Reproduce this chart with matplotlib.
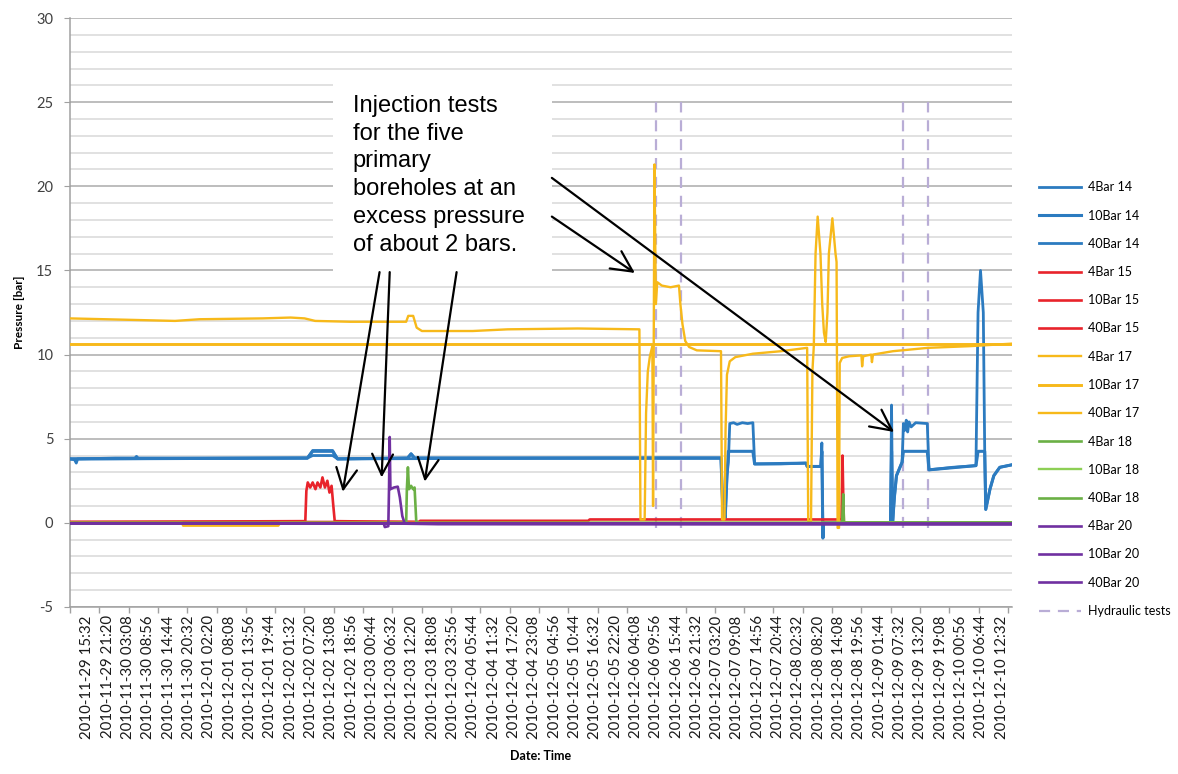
import numpy as np
import matplotlib
matplotlib.use("Agg")
import matplotlib.pyplot as plt
from matplotlib.patches import Rectangle

plt.rcParams['font.family'] = ['Lato', 'DejaVu Sans']
plt.rcParams['axes.unicode_minus'] = False

# x = hours after 2010-11-29 15:32, y = pressure [bar]
tick_labels = ["2010-11-29 15:32", "2010-11-29 21:20", "2010-11-30 03:08", "2010-11-30 08:56",
               "2010-11-30 14:44", "2010-11-30 20:32", "2010-12-01 02:20", "2010-12-01 08:08",
               "2010-12-01 13:56", "2010-12-01 19:44", "2010-12-02 01:32", "2010-12-02 07:20",
               "2010-12-02 13:08", "2010-12-02 18:56", "2010-12-03 00:44", "2010-12-03 06:32",
               "2010-12-03 12:20", "2010-12-03 18:08", "2010-12-03 23:56", "2010-12-04 05:44",
               "2010-12-04 11:32", "2010-12-04 17:20", "2010-12-04 23:08", "2010-12-05 04:56",
               "2010-12-05 10:44", "2010-12-05 16:32", "2010-12-05 22:20", "2010-12-06 04:08",
               "2010-12-06 09:56", "2010-12-06 15:44", "2010-12-06 21:32", "2010-12-07 03:20",
               "2010-12-07 09:08", "2010-12-07 14:56", "2010-12-07 20:44", "2010-12-08 02:32",
               "2010-12-08 08:20", "2010-12-08 14:08", "2010-12-08 19:56", "2010-12-09 01:44",
               "2010-12-09 07:32", "2010-12-09 13:20", "2010-12-09 19:08", "2010-12-10 00:56",
               "2010-12-10 06:44", "2010-12-10 12:32"]
label_step_h = 5.8

bar14_4 = [(-5.1, 3.8), (60, 3.85), (62.8, 3.85), (64.3, 4.0), (70.0, 4.0), (71.4, 3.8),
           (150, 3.85), (180.6, 3.85)]
bar14_10 = [(-5.1, 3.8), (62.8, 3.85), (64.3, 4.25), (70.0, 4.25), (71.4, 3.8), (91.4, 3.85),
            (92.4, 4.1), (93.4, 3.85), (180.9, 3.85), (181.4, 0.8), (182.1, 0.3), (182.6, 2.8),
            (183.0, 4.25), (190.0, 4.25), (190.5, 3.5), (205.2, 3.55), (205.5, 3.35), (209.4, 3.35),
            (209.7, 4.25), (210.0, -0.9), (210.2, 0.0), (229.3, 0.0), (229.6, 4.25), (229.9, 0.0),
            (230.4, 1.5), (231.0, 2.8), (232.0, 3.3), (232.6, 3.6), (233.0, 4.25), (239.8, 4.25),
            (240.3, 3.15), (253.7, 3.4), (254.3, 4.25), (256.2, 4.25), (256.5, 0.8), (257.7, 2.0),
            (258.8, 2.8), (260.5, 3.3), (264, 3.45)]
bar14_40 = [(-5.1, 3.8), (-3.7, 3.75), (-3.2, 3.55), (-2.8, 3.8), (8, 3.85), (13.5, 3.85),
            (14.0, 3.95), (14.5, 3.85), (45, 3.85), (62.8, 3.85), (64.3, 4.3), (70.0, 4.3),
            (71.4, 3.8), (91.4, 3.85), (92.4, 4.1), (93.4, 3.85), (120, 3.85), (180.9, 3.85),
            (181.4, 0.8), (182.1, 0.3), (182.6, 2.8), (183.0, 3.6), (183.4, 5.9), (184.5, 5.95),
            (185.5, 5.85), (187.0, 5.95), (188.5, 5.9), (190.0, 5.95), (190.5, 3.5), (198, 3.5),
            (205.2, 3.55), (205.5, 3.35), (209.4, 3.35), (209.7, 4.75), (210.0, -0.9), (210.2, 0.0),
            (229.3, 0.0), (229.6, 7.0), (229.9, 0.0), (230.4, 1.5), (231.0, 2.8), (232.0, 3.3),
            (232.6, 3.6), (233.0, 5.9), (233.4, 5.5), (233.8, 6.1), (234.2, 5.4), (234.6, 6.0),
            (235.2, 5.7), (236.5, 5.95), (239.8, 5.9), (240.3, 3.15), (247, 3.3), (253.7, 3.4),
            (254.3, 12.5), (255.0, 15.0), (255.8, 12.5), (256.2, 4.3), (256.5, 0.8), (257.7, 2.0),
            (258.8, 2.8), (260.5, 3.3), (264, 3.45)]

bar15_4 = [(-5.1, 0.05), (62.2, 0.1), (62.5, 1.9), (62.9, 2.4), (63.6, 2.1), (64.3, 2.4),
           (65.1, 2.0), (65.7, 2.4), (66.5, 2.1), (67.1, 2.7), (67.8, 2.1), (68.5, 2.5),
           (69.1, 1.8), (69.7, 2.2), (70.2, 1.0), (70.6, 0.1), (94.0, 0.05)]
bar15_10 = [(-5.1, 0.05), (94.5, 0.05), (95.0, 0.12), (143.0, 0.12), (143.4, 0.2),
            (215.3, 0.2), (215.6, 4.0), (215.8, 1.7), (216.0, 0.0), (264, 0.0)]
bar15_40 = [(-5.1, 0.0), (264, 0.0)]

bar17_4 = [(-5.1, 0.0), (27.0, 0.0), (27.3, -0.17), (54.5, -0.17), (55.0, 0.0), (264, 0.0)]
bar17_10 = [(-5.1, 10.6), (264, 10.6)]
bar17_40 = [(-5.1, 12.15), (5, 12.1), (15, 12.05), (25, 12.0), (32, 12.1), (50, 12.15),
            (58, 12.2), (62, 12.15), (65, 12.0), (75, 11.95), (91.0, 11.95), (91.6, 12.3),
            (93.0, 12.3), (94.0, 11.6), (95.5, 11.4), (110, 11.4), (120, 11.5), (140, 11.55),
            (157.6, 11.5), (157.9, 0.2), (159.1, 0.2), (159.5, 6.5), (160.0, 9.0), (160.6, 9.9),
            (161.3, 10.5), (161.5, 1.0), (161.9, 21.3), (162.3, 13.0), (162.7, 14.3), (164, 14.1),
            (166.5, 14.0), (168.9, 14.1), (169.3, 13.0), (169.9, 11.8), (170.7, 10.8), (171.8, 10.45),
            (174, 10.25), (180.9, 10.2), (181.2, 0.2), (181.9, 0.2), (182.2, 5.5), (182.6, 8.8),
            (183.4, 9.6), (185, 9.85), (190, 10.05), (198, 10.2), (205.5, 10.4), (205.8, 0.1),
            (206.6, 0.1), (207.0, 9.0), (207.4, 10.5), (207.9, 16.0), (208.5, 18.2), (209.3, 16.0),
            (209.8, 13.0), (210.3, 11.3), (210.8, 10.75), (211.3, 12.5), (211.7, 16.0),
            (212.7, 18.1), (213.6, 16.0), (213.9, 15.5), (214.2, -0.3), (214.6, -0.3), (214.8, 9.5),
            (215.5, 9.8), (217.5, 9.9), (221.0, 9.95), (221.2, 9.3), (221.5, 9.9), (223.8, 10.0),
            (224.0, 9.55), (224.3, 10.0), (230, 10.2), (240, 10.4), (252, 10.5), (264, 10.65)]

bar18_4 = [(-5.1, 0.0), (91.0, 0.0), (91.2, 2.0), (91.5, 3.3), (91.8, 2.0), (92.4, 2.2),
           (93.0, 2.0), (93.4, 2.1), (93.9, 0.0), (215.5, 0.0), (215.8, 1.7), (216.0, 0.03),
           (264, 0.03)]
bar18_10 = [(-5.1, 0.0), (264, 0.0)]
bar18_40 = [(-5.1, 0.0), (264, 0.0)]

bar20_4 = [(-5.1, -0.03), (84.6, -0.03), (84.9, -0.25), (85.9, -0.2), (86.1, 2.0), (86.3, 5.1),
           (86.5, 2.0), (87.5, 2.1), (88.6, 2.15), (89.2, 1.5), (89.9, 0.4), (90.6, -0.05),
           (100, -0.08), (264, -0.1)]
bar20_10 = [(-5.1, -0.03), (264, -0.05)]
bar20_40 = [(-5.1, -0.03), (264, -0.05)]

hydraulic_tests_h = [162.3, 169.6, 232.8, 240.0]

series = [("4Bar 14", bar14_4, "#2C7BC0", 2.0), ("10Bar 14", bar14_10, "#2C7BC0", 2.2),
          ("40Bar 14", bar14_40, "#2C7BC0", 2.0),
          ("4Bar 15", bar15_4, "#E8232B", 1.9), ("10Bar 15", bar15_10, "#E8232B", 1.9),
          ("40Bar 15", bar15_40, "#E8232B", 1.9),
          ("4Bar 17", bar17_4, "#F7B91A", 1.7), ("10Bar 17", bar17_10, "#F7B91A", 2.1),
          ("40Bar 17", bar17_40, "#F7B91A", 1.7),
          ("4Bar 18", bar18_4, "#6BB045", 1.9), ("10Bar 18", bar18_10, "#8DCF55", 1.7),
          ("40Bar 18", bar18_40, "#6BB045", 1.9),
          ("4Bar 20", bar20_4, "#7030A0", 1.9), ("10Bar 20", bar20_10, "#7030A0", 1.9),
          ("40Bar 20", bar20_40, "#7030A0", 1.9)]

fig = plt.figure(figsize=(11.78, 7.74), dpi=100)
ax = fig.add_axes([0.0594, 0.2158, 0.7997, 0.7609])

for name, pts, col, lw in series:
    h, p = np.array(pts).T
    ax.plot(h, p, color=col, lw=lw, label=name, zorder=3)

for i, h in enumerate(hydraulic_tests_h):
    ax.plot([h, h], [-0.3, 25], color="#B9ADD6", lw=1.6, dashes=(5, 3.5), zorder=2,
            label="Hydraulic tests" if i == 0 else None)

ax.set_xlim(-5.0, 264.0)
ax.set_ylim(-5, 30)
ax.set_yticks(range(-5, 31, 5))
ax.set_yticks(range(-5, 31), minor=True)
ax.grid(which='minor', axis='y', color='#D9D9D9', lw=1.1, zorder=0)
ax.grid(which='major', axis='y', color='#ABABAB', lw=1.1, zorder=0)
ax.set_axisbelow(True)

ax.set_xticks(np.arange(len(tick_labels)) * label_step_h)
ax.set_xticklabels(tick_labels, rotation=90, fontsize=10.8, color='#1A1A1A')
ax.set_xticks(np.arange(-5.0, 264.0, 8.37), minor=True)
ax.tick_params(axis='x', which='major', length=0, pad=6)
ax.tick_params(axis='x', which='minor', length=4, color='#A0A0A0', width=1)
ax.tick_params(axis='y', which='major', length=4, color='#A0A0A0', labelsize=10.5,
               labelcolor='#404040', pad=8)
ax.tick_params(axis='y', which='minor', length=0)

for s in ['top', 'right']:
    ax.spines[s].set_visible(False)
for s in ['left', 'bottom']:
    ax.spines[s].set_color('#A0A0A0')
    ax.spines[s].set_linewidth(1.1)

ax.set_ylabel("Pressure [bar]", fontsize=8.5, fontweight='bold', labelpad=8)
ax.set_xlabel("Date: Time", fontsize=9, fontweight='bold', labelpad=8)

# annotation box with arrows
ax.add_patch(Rectangle((70.0, 14.9), 62.6, 11.7, facecolor='white', edgecolor='none', zorder=5))
ax.text(75.7, 25.45, "Injection tests\nfor the five\nprimary\nboreholes at an\nexcess pressure\nof about 2 bars.",
        va='top', ha='left', fontsize=17, family='Liberation Sans', linespacing=1.35, zorder=6)

arrows = [((83.4, 14.9), (72.9, 1.85)), ((86.3, 14.9), (84.0, 2.7)), ((105.4, 14.9), (96.3, 2.45)),
          ((132.6, 20.5), (230.3, 5.4)), ((132.6, 18.2), (156.3, 14.85))]
for start, end in arrows:
    ax.annotate('', xy=end, xytext=start, zorder=7,
                arrowprops=dict(arrowstyle='->,head_length=0.6,head_width=0.3', lw=1.6,
                                color='black', mutation_scale=25, shrinkA=0, shrinkB=0))

ax.legend(loc='upper left', bbox_to_anchor=(1028 / 1178, 1 - 170 / 774), bbox_transform=fig.transFigure,
          frameon=False, fontsize=9, handlelength=3.3, handletextpad=0.6, labelspacing=1.3)

fig.savefig("out.png", dpi=100)
